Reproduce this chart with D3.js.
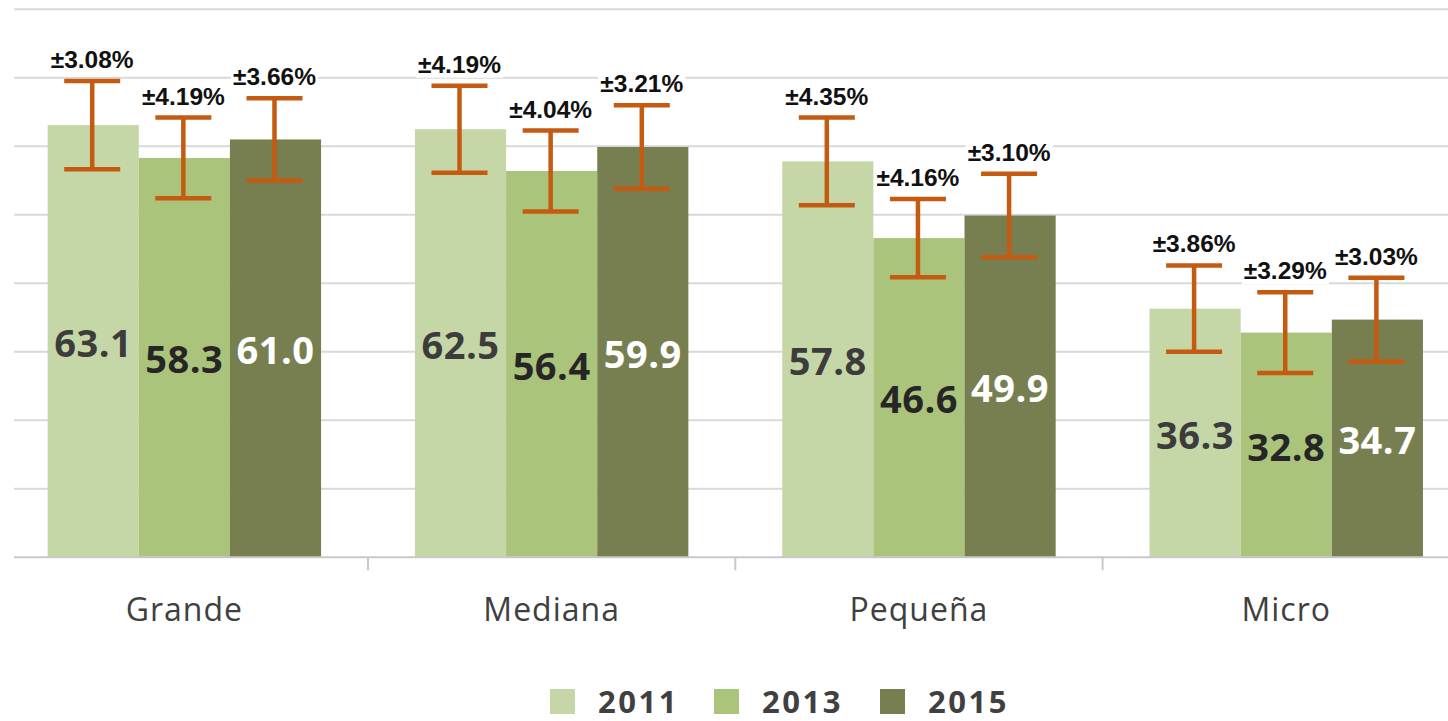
<!DOCTYPE html>
<html>
<head>
<meta charset="utf-8">
<script src="https://cdn.jsdelivr.net/npm/d3@7"></script>
<style>
html,body{margin:0;padding:0;background:#fff;overflow:hidden;}
svg{display:block;}
</style>
</head>
<body>
<svg id="chart" width="1448" height="721"></svg>
<script>
const categories = ["Grande", "Mediana", "Pequeña", "Micro"];
const years = ["2011", "2013", "2015"];
const values2011 = [63.1, 62.5, 57.8, 36.3];
const values2013 = [58.3, 56.4, 46.6, 32.8];
const values2015 = [61.0, 59.9, 49.9, 34.7];
// error half-widths as drawn (value units)
const err2011 = [6.45, 6.35, 6.4, 6.3];
const err2013 = [5.9, 5.9, 5.7, 5.9];
const err2015 = [6.0, 6.1, 6.1, 6.1];
const errLabels2011 = ["±3.08%", "±4.19%", "±4.35%", "±3.86%"];
const errLabels2013 = ["±4.19%", "±4.04%", "±4.16%", "±3.29%"];
const errLabels2015 = ["±3.66%", "±3.21%", "±3.10%", "±3.03%"];
const yTicks = [0, 10, 20, 30, 40, 50, 60, 70, 80];

const seriesValues = [values2011, values2013, values2015];
const seriesErr = [err2011, err2013, err2015];
const seriesErrLabels = [errLabels2011, errLabels2013, errLabels2015];
const colors = ["#c6d7a7", "#aac47c", "#777f51"];
const valueColors = ["#3c3c3c", "#262626", "#ffffff"];

const data = [];
categories.forEach((c, i) => {
  years.forEach((y, j) => {
    data.push({cat: c, year: y, v: seriesValues[j][i], e: seriesErr[j][i], lab: seriesErrLabels[j][i], si: j});
  });
});

const svg = d3.select("#chart");
const W = 1448;
const bandW = 367.3;
const x0 = d3.scaleBand().domain(categories).range([0.7, 0.7 + bandW * 4]).padding(0);
const x1 = d3.scaleBand().domain(years).range([0, bandW]).paddingInner(0).paddingOuter(0.515);
const y = d3.scaleLinear().domain([0, 80]).range([557.3, 9.3]);

// gridlines
svg.append("g").selectAll("line").data(yTicks.filter(t => t > 0)).join("line")
  .attr("x1", 14).attr("x2", W)
  .attr("y1", d => y(d)).attr("y2", d => y(d))
  .attr("stroke", "#d9d9d9").attr("stroke-width", 2);

// bars
svg.append("g").selectAll("rect").data(data).join("rect")
  .attr("x", d => x0(d.cat) + x1(d.year))
  .attr("y", d => y(d.v))
  .attr("width", x1.bandwidth())
  .attr("height", d => y(0) - y(d.v))
  .attr("fill", d => colors[d.si]);

// baseline axis
const xAxis = d3.axisBottom(x0).tickSize(0).tickFormat("");
const ax = svg.append("g").attr("transform", `translate(0,${y(0)})`).call(xAxis);
ax.select(".domain").remove();
svg.append("line").attr("x1", 14).attr("x2", W).attr("y1", y(0)).attr("y2", y(0))
  .attr("stroke", "#c8c8c8").attr("stroke-width", 2);
// category separator ticks
svg.append("g").selectAll("line").data(categories.slice(1)).join("line")
  .attr("x1", d => x0(d)).attr("x2", d => x0(d))
  .attr("y1", y(0)).attr("y2", y(0) + 13)
  .attr("stroke", "#c8c8c8").attr("stroke-width", 2);
// category labels
svg.append("g").selectAll("text").data(categories).join("text")
  .attr("x", d => x0(d) + x0.bandwidth() / 2)
  .attr("y", 621)
  .attr("text-anchor", "middle")
  .attr("font-family", "'Open Sans', 'Noto Sans', sans-serif")
  .attr("font-size", 32)
  .attr("letter-spacing", 1)
  .attr("fill", "#404040")
  .text(d => d);

// value labels
svg.append("g").selectAll("text").data(data).join("text")
  .attr("x", d => x0(d.cat) + x1(d.year) + x1.bandwidth() / 2)
  .attr("y", d => (y(d.v) + y(0)) / 2 + 2)
  .attr("dy", "0.36em")
  .attr("text-anchor", "middle")
  .attr("font-family", "'Open Sans', 'Noto Sans', sans-serif")
  .attr("font-weight", "bold")
  .attr("font-size", 38)
  .attr("letter-spacing", 0.5)
  .attr("fill", d => valueColors[d.si])
  .text(d => d.v.toFixed(1));

// error bars
const eb = svg.append("g").attr("stroke", "#c55a11").attr("stroke-width", 4.5).attr("fill", "none");
const cx = d => x0(d.cat) + x1(d.year) + x1.bandwidth() / 2 - 1;
eb.selectAll("line.v").data(data).join("line").attr("class", "v")
  .attr("x1", cx).attr("x2", cx)
  .attr("y1", d => y(d.v + d.e)).attr("y2", d => y(d.v - d.e));
eb.selectAll("line.t").data(data).join("line").attr("class", "t")
  .attr("x1", d => cx(d) - 28).attr("x2", d => cx(d) + 28)
  .attr("y1", d => y(d.v + d.e)).attr("y2", d => y(d.v + d.e));
eb.selectAll("line.b").data(data).join("line").attr("class", "b")
  .attr("x1", d => cx(d) - 28).attr("x2", d => cx(d) + 28)
  .attr("y1", d => y(d.v - d.e)).attr("y2", d => y(d.v - d.e));

// error labels with white background
const el = svg.append("g").selectAll("g").data(data).join("g");
const elText = el.append("text")
  .attr("x", cx)
  .attr("y", d => y(d.v + d.e) - 13)
  .attr("text-anchor", "middle")
  .attr("font-family", "'Liberation Sans', Arial, sans-serif")
  .attr("font-weight", "bold")
  .attr("font-size", 24.5)
  .attr("fill", "#111")
  .text(d => d.lab);
elText.each(function() {
  const b = this.getBBox();
  d3.select(this.parentNode).insert("rect", "text")
    .attr("x", b.x - 2).attr("y", b.y + 2).attr("width", b.width + 4).attr("height", b.height - 2)
    .attr("fill", "#fff");
});

// legend
const legX = [550, 714, 880];
const lg = svg.append("g").selectAll("g").data(years).join("g")
  .attr("transform", (d, i) => `translate(${legX[i]},689)`);
lg.append("rect").attr("width", 25).attr("height", 25).attr("fill", (d, i) => colors[i]);
lg.append("text").attr("x", 48).attr("y", 23.5)
  .attr("font-family", "'Open Sans', 'Noto Sans', sans-serif")
  .attr("font-weight", "bold").attr("font-size", 31)
  .attr("letter-spacing", 2.5)
  .attr("fill", "#404040")
  .text(d => d);
</script>
</body>
</html>
